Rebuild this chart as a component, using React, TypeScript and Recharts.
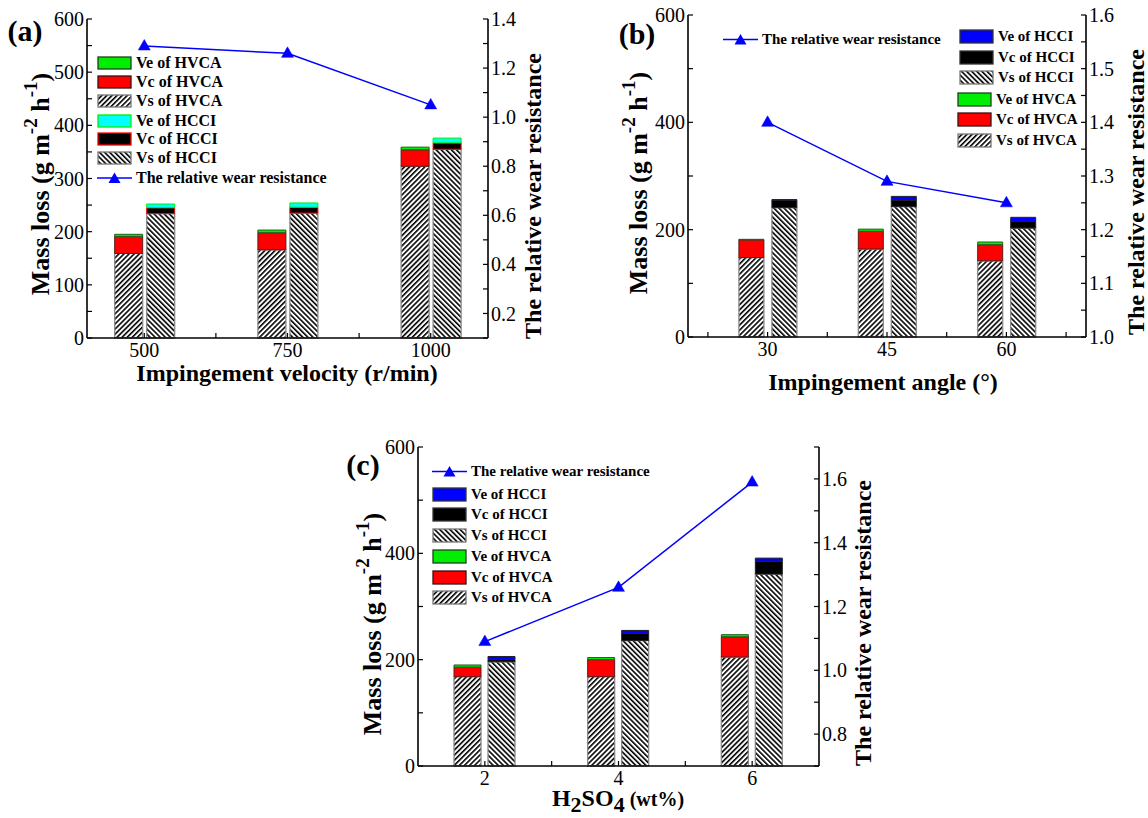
import React from 'react';
import { ComposedChart, Bar, Line, XAxis, YAxis, Legend } from 'recharts';

const FONT = '"Liberation Serif", "Times New Roman", serif';

// ---------- (a) impingement velocity ----------
const velocityCategories = [500, 750, 1000];
const velHvcaVs = [159, 166, 323];
const velHvcaVc = [32, 32, 31];
const velHvcaVe = [4, 5, 5];
const velHcciVs = [234, 235, 355];
const velHcciVc = [11, 11, 12];
const velHcciVe = [7, 8, 9];
const velRelativeWear = [1.29, 1.26, 1.05];
const velXTicks = [500, 625, 750, 875, 1000];
const velXLabels = [500, 750, 1000];
const velTopTicks = [470, 540, 610, 680, 750, 820, 890, 960, 1030];
const velLeftTicks = [0, 50, 100, 150, 200, 250, 300, 350, 400, 450, 500, 550, 600];
const velLeftLabels = [0, 100, 200, 300, 400, 500, 600];
const velRightTicks = [0.1, 0.2, 0.3, 0.4, 0.5, 0.6, 0.7, 0.8, 0.9, 1.0, 1.1, 1.2, 1.3, 1.4];
const velRightLabels = [0.2, 0.4, 0.6, 0.8, 1.0, 1.2, 1.4];

// ---------- (b) impingement angle ----------
const angleCategories = [30, 45, 60];
const angHvcaVs = [148, 164, 142];
const angHvcaVc = [33, 33, 30];
const angHvcaVe = [1, 4, 5];
const angHcciVs = [241, 243, 203];
const angHcciVc = [14, 12, 12];
const angHcciVe = [1, 7, 8];
const angRelativeWear = [1.4, 1.29, 1.25];
const angXTicks = [22.5, 30, 37.5, 45, 52.5, 60, 67.5];
const angXLabels = [30, 45, 60];
const angTopTicks = [25, 30, 35, 40, 45, 50, 55, 60, 65];
const angLeftTicks = [0, 100, 200, 300, 400, 500, 600];
const angLeftLabels = [0, 200, 400, 600];
const angRightTicks = [1.0, 1.05, 1.1, 1.15, 1.2, 1.25, 1.3, 1.35, 1.4, 1.45, 1.5, 1.55, 1.6];
const angRightLabels = [1.0, 1.1, 1.2, 1.3, 1.4, 1.5, 1.6];

// ---------- (c) H2SO4 concentration ----------
const acidCategories = [2, 4, 6];
const acidHvcaVs = [168, 168, 205];
const acidHvcaVc = [18, 32, 38];
const acidHvcaVe = [4, 4, 4];
const acidHcciVs = [196, 236, 361];
const acidHcciVc = [4, 13, 24];
const acidHcciVe = [6, 6, 6];
const acidRelativeWear = [1.09, 1.26, 1.59];
const acidXTicks = [2, 3, 4, 5, 6];
const acidXLabels = [2, 4, 6];
const acidTopTicks = [1.6, 2.2, 2.8, 3.4, 4.0, 4.6, 5.2, 5.8, 6.4];
const acidLeftTicks = [0, 100, 200, 300, 400, 500, 600];
const acidLeftLabels = [0, 200, 400, 600];
const acidRightTicks = [0.7, 0.8, 0.9, 1.0, 1.1, 1.2, 1.3, 1.4, 1.5, 1.6, 1.7];
const acidRightLabels = [0.8, 1.0, 1.2, 1.4, 1.6];

const has = (list: number[], v: number) => list.some((l) => Math.abs(l - v) < 1e-6);

const triPath = (cx: number, cy: number) =>
  `M${cx},${cy - 6.5} L${cx + 6},${cy + 4} L${cx - 6},${cy + 4} Z`;

function TriangleDot(props: any) {
  const { cx, cy, index } = props;
  if (cx == null || cy == null) return <g key={`d-${index}`} />;
  return <path key={`d-${index}`} d={triPath(cx, cy)} fill="#0000ff" stroke="#0000ff" strokeWidth={0.5} />;
}

function Title(props: any) {
  const { tx, ty, rotate, size = 24, children } = props;
  return (
    <text
      x={tx}
      y={ty}
      transform={rotate ? `rotate(-90 ${tx} ${ty})` : undefined}
      textAnchor="middle"
      dominantBaseline={rotate ? 'central' : 'alphabetic'}
      fontFamily={FONT}
      fontWeight="bold"
      fontSize={size}
      fill="#000"
    >
      {children}
    </text>
  );
}

const massLossText = (
  <>
    Mass loss (g m<tspan dy={-10} fontSize={19}>-2</tspan>
    <tspan dy={10}> h</tspan>
    <tspan dy={-10} fontSize={19}>-1</tspan>
    <tspan dy={10}>)</tspan>
  </>
);

type Swatch = {
  key: string;
  label: string;
  kind: 'line' | 'box';
  fill?: string;
  stroke?: string;
  x: number;
  y: number;
};

function LegendBlock({ items, font, w, h }: { items: Swatch[]; font: number; w: number; h: number }) {
  return (
    <div style={{ position: 'relative', width: '100%', height: '100%' }}>
      {items.map((it) => (
        <div
          key={it.key}
          style={{
            position: 'absolute',
            left: it.x,
            top: it.y - 10,
            height: 20,
            display: 'flex',
            alignItems: 'center',
            whiteSpace: 'nowrap',
          }}
        >
          <svg width={w} height={h + 2} style={{ display: 'block', marginRight: 4, overflow: 'visible' }}>
            {it.kind === 'line' ? (
              <>
                <line x1={0} y1={(h + 2) / 2} x2={w} y2={(h + 2) / 2} stroke="#0000ff" strokeWidth={1.5} />
                <path d={triPath(w / 2, (h + 2) / 2 + 1)} fill="#0000ff" />
              </>
            ) : (
              <rect x={1} y={1} width={w - 2} height={h} fill={it.fill} stroke={it.stroke} strokeWidth={1.3} />
            )}
          </svg>
          <span style={{ fontFamily: FONT, fontWeight: 'bold', fontSize: font, color: '#000', lineHeight: '20px' }}>
            {it.label}
          </span>
        </div>
      ))}
    </div>
  );
}

function Panel(p: any) {
  const data = p.cats.map((c: number, i: number) => ({
    x: c,
    hvcaVs: p.hvcaVs[i],
    hvcaVc: p.hvcaVc[i],
    hvcaVe: p.hvcaVe[i],
    hcciVs: p.hcciVs[i],
    hcciVc: p.hcciVc[i],
    hcciVe: p.hcciVe[i],
    rwr: p.rwr[i],
  }));
  const axisLine = { stroke: '#000', strokeWidth: 1.6 };
  const tickLine = { stroke: '#000', strokeWidth: 1.2 };
  const tickStyle = { fill: '#000', fontSize: 20, fontFamily: FONT };
  return (
    <div style={{ position: 'absolute', left: p.left, top: p.top }}>
      <ComposedChart
        width={p.width}
        height={p.height}
        data={data}
        margin={p.margin}
        barSize={p.barSize}
        barGap={p.barGap}
      >
        <XAxis
          xAxisId="bottom"
          dataKey="x"
          type="number"
          domain={p.xDomain}
          ticks={p.xTicks}
          interval={0}
          tickFormatter={(v: number) => (has(p.xLabels, v) ? String(v) : '')}
          height={40}
          axisLine={axisLine}
          tickLine={tickLine}
          tickSize={-5}
          tickMargin={10}
          tick={tickStyle}
          label={{ content: () => <Title tx={p.xTitle[0]} ty={p.xTitle[1]}>{p.xTitleText}</Title> }}
        />
        <XAxis
          xAxisId="top"
          orientation="top"
          dataKey="x"
          type="number"
          domain={p.xDomain}
          ticks={p.topTicks}
          interval={0}
          tickFormatter={() => ''}
          height={0}
          axisLine={axisLine}
          tickLine={tickLine}
          tickSize={-4}
        />
        <YAxis
          yAxisId="left"
          type="number"
          domain={[0, 600]}
          ticks={p.leftTicks}
          interval={0}
          tickFormatter={(v: number) => (has(p.leftLabels, v) ? String(v) : '')}
          width={60}
          axisLine={axisLine}
          tickLine={tickLine}
          tickSize={-5}
          tickMargin={8}
          tick={tickStyle}
          label={{
            content: () => (
              <g>
                <Title tx={p.yTitle[0]} ty={p.yTitle[1]} rotate size={26}>{massLossText}</Title>
                <Title tx={p.letter[0]} ty={p.letter[1]} size={30}>{p.letterText}</Title>
              </g>
            ),
          }}
        />
        <YAxis
          yAxisId="right"
          orientation="right"
          type="number"
          domain={p.rDomain}
          ticks={p.rightTicks}
          interval={0}
          tickFormatter={(v: number) => (has(p.rightLabels, v) ? v.toFixed(1) : '')}
          width={p.rightWidth}
          axisLine={axisLine}
          tickLine={tickLine}
          tickSize={-5}
          tickMargin={8}
          tick={tickStyle}
          label={{ content: () => <Title tx={p.rTitle[0]} ty={p.rTitle[1]} rotate>The relative wear resistance</Title> }}
        />
        <Bar xAxisId="bottom" yAxisId="left" dataKey="hvcaVs" stackId="hvca" fill="url(#hatchHVCA)" stroke="#8a8a8a" strokeWidth={1.3} isAnimationActive={false} />
        <Bar xAxisId="bottom" yAxisId="left" dataKey="hvcaVc" stackId="hvca" fill="#ff0000" stroke="#5a1a1a" strokeWidth={1} isAnimationActive={false} />
        <Bar xAxisId="bottom" yAxisId="left" dataKey="hvcaVe" stackId="hvca" fill="#00ee00" stroke="#1f5f1f" strokeWidth={1} isAnimationActive={false} />
        <Bar xAxisId="bottom" yAxisId="left" dataKey="hcciVs" stackId="hcci" fill="url(#hatchHCCI)" stroke="#8a8a8a" strokeWidth={1.3} isAnimationActive={false} />
        <Bar xAxisId="bottom" yAxisId="left" dataKey="hcciVc" stackId="hcci" fill="#000000" stroke={p.hcciVcStroke} strokeWidth={1} isAnimationActive={false} />
        <Bar xAxisId="bottom" yAxisId="left" dataKey="hcciVe" stackId="hcci" fill={p.hcciVeFill} stroke={p.hcciVeStroke} strokeWidth={1} isAnimationActive={false} />
        <Line
          xAxisId="bottom"
          yAxisId="right"
          dataKey="rwr"
          stroke="#0000ff"
          strokeWidth={1.5}
          dot={(d: any) => <TriangleDot {...d} key={`t-${d.index}`} />}
          activeDot={false}
          isAnimationActive={false}
        />
        <Legend
          layout="horizontal"
          verticalAlign="middle"
          align="center"
          wrapperStyle={{ left: 0, top: 0, width: p.width, height: p.height, pointerEvents: 'none' }}
          content={() => <LegendBlock items={p.legend} font={p.legendFont} w={p.swatchW} h={p.swatchH} />}
        />
      </ComposedChart>
    </div>
  );
}

const legendA: Swatch[] = [
  { key: 'a1', label: 'Ve of HVCA', kind: 'box', fill: '#00ee00', stroke: '#1f3f1f', x: 97, y: 63 },
  { key: 'a2', label: 'Vc of HVCA', kind: 'box', fill: '#ff0000', stroke: '#3a1010', x: 97, y: 82 },
  { key: 'a3', label: 'Vs of HVCA', kind: 'box', fill: 'url(#hatchHVCA)', stroke: '#777', x: 97, y: 101 },
  { key: 'a4', label: 'Ve of HCCI', kind: 'box', fill: '#00ffff', stroke: '#00ee00', x: 97, y: 121 },
  { key: 'a5', label: 'Vc of HCCI', kind: 'box', fill: '#000000', stroke: '#ff0000', x: 97, y: 139 },
  { key: 'a6', label: 'Vs of HCCI', kind: 'box', fill: 'url(#hatchHCCI)', stroke: '#777', x: 97, y: 158 },
  { key: 'a7', label: 'The relative wear resistance', kind: 'line', x: 97, y: 178 },
];

const legendB: Swatch[] = [
  { key: 'b0', label: 'The relative wear resistance', kind: 'line', x: 133, y: 39 },
  { key: 'b1', label: 'Ve of HCCI', kind: 'box', fill: '#0000ff', stroke: '#333', x: 369, y: 36 },
  { key: 'b2', label: 'Vc of HCCI', kind: 'box', fill: '#000000', stroke: '#333', x: 369, y: 57 },
  { key: 'b3', label: 'Vs of HCCI', kind: 'box', fill: 'url(#hatchHCCI)', stroke: '#777', x: 369, y: 77 },
  { key: 'b4', label: 'Ve of HVCA', kind: 'box', fill: '#00ee00', stroke: '#1f3f1f', x: 367, y: 99 },
  { key: 'b5', label: 'Vc of HVCA', kind: 'box', fill: '#ff0000', stroke: '#3a1010', x: 367, y: 119 },
  { key: 'b6', label: 'Vs of HVCA', kind: 'box', fill: 'url(#hatchHVCA)', stroke: '#777', x: 367, y: 140 },
];

const legendC: Swatch[] = [
  { key: 'c0', label: 'The relative wear resistance', kind: 'line', x: 102, y: 56 },
  { key: 'c1', label: 'Ve of HCCI', kind: 'box', fill: '#0000ff', stroke: '#333', x: 102, y: 79 },
  { key: 'c2', label: 'Vc of HCCI', kind: 'box', fill: '#000000', stroke: '#333', x: 102, y: 99 },
  { key: 'c3', label: 'Vs of HCCI', kind: 'box', fill: 'url(#hatchHCCI)', stroke: '#777', x: 102, y: 120 },
  { key: 'c4', label: 'Ve of HVCA', kind: 'box', fill: '#00ee00', stroke: '#1f3f1f', x: 102, y: 141 },
  { key: 'c5', label: 'Vc of HVCA', kind: 'box', fill: '#ff0000', stroke: '#3a1010', x: 102, y: 162 },
  { key: 'c6', label: 'Vs of HVCA', kind: 'box', fill: 'url(#hatchHVCA)', stroke: '#777', x: 102, y: 182 },
];

export default function App() {
  return (
    <div style={{ position: 'absolute', left: 0, top: 0, width: 1148, height: 818, background: '#fff', overflow: 'hidden' }}>
      <svg width={0} height={0} style={{ position: 'absolute' }}>
        <defs>
          <pattern id="hatchHVCA" patternUnits="userSpaceOnUse" width={3.6} height={3.6} patternTransform="rotate(45)">
            <rect width={3.6} height={3.6} fill="#fff" />
            <rect x={0} y={0} width={1.6} height={3.6} fill="#000" />
          </pattern>
          <pattern id="hatchHCCI" patternUnits="userSpaceOnUse" width={3.6} height={3.6} patternTransform="rotate(-45)">
            <rect width={3.6} height={3.6} fill="#fff" />
            <rect x={0} y={0} width={1.6} height={3.6} fill="#000" />
          </pattern>
        </defs>
      </svg>
      <Panel
        left={0}
        top={0}
        width={570}
        height={400}
        margin={{ top: 19, right: 22, bottom: 22, left: 27 }}
        rightWidth={60}
        barSize={28}
        barGap={4}
        cats={velocityCategories}
        hvcaVs={velHvcaVs}
        hvcaVc={velHvcaVc}
        hvcaVe={velHvcaVe}
        hcciVs={velHcciVs}
        hcciVc={velHcciVc}
        hcciVe={velHcciVe}
        rwr={velRelativeWear}
        xDomain={[400, 1100]}
        xTicks={velXTicks}
        xLabels={velXLabels}
        topTicks={velTopTicks}
        leftTicks={velLeftTicks}
        leftLabels={velLeftLabels}
        rDomain={[0.1, 1.4]}
        rightTicks={velRightTicks}
        rightLabels={velRightLabels}
        hcciVeFill="#00ffff"
        hcciVeStroke="#00ee00"
        hcciVcStroke="#ff0000"
        xTitle={[287, 381]}
        xTitleText="Impingement velocity (r/min)"
        yTitle={[40, 184]}
        rTitle={[533, 196]}
        letter={[25, 41]}
        letterText="(a)"
        legend={legendA}
        legendFont={16}
        swatchW={35}
        swatchH={12}
      />
      <Panel
        left={590}
        top={0}
        width={558}
        height={400}
        margin={{ top: 15, right: 12, bottom: 23, left: 38 }}
        rightWidth={50}
        barSize={25}
        barGap={8}
        cats={angleCategories}
        hvcaVs={angHvcaVs}
        hvcaVc={angHvcaVc}
        hvcaVe={angHvcaVe}
        hcciVs={angHcciVs}
        hcciVc={angHcciVc}
        hcciVe={angHcciVe}
        rwr={angRelativeWear}
        xDomain={[20, 70]}
        xTicks={angXTicks}
        xLabels={angXLabels}
        topTicks={angTopTicks}
        leftTicks={angLeftTicks}
        leftLabels={angLeftLabels}
        rDomain={[1.0, 1.6]}
        rightTicks={angRightTicks}
        rightLabels={angRightLabels}
        hcciVeFill="#0000ff"
        hcciVeStroke="#222"
        hcciVcStroke="#222"
        xTitle={[293, 390]}
        xTitleText="Impingement angle (°)"
        yTitle={[48, 183]}
        rTitle={[546, 192]}
        letter={[47, 44]}
        letterText="(b)"
        legend={legendB}
        legendFont={15}
        swatchW={35}
        swatchH={13}
      />
      <Panel
        left={330}
        top={415}
        width={570}
        height={403}
        margin={{ top: 32, right: 21, bottom: 12, left: 28 }}
        rightWidth={60}
        barSize={27}
        barGap={7}
        cats={acidCategories}
        hvcaVs={acidHvcaVs}
        hvcaVc={acidHvcaVc}
        hvcaVe={acidHvcaVe}
        hcciVs={acidHcciVs}
        hcciVc={acidHcciVc}
        hcciVe={acidHcciVe}
        rwr={acidRelativeWear}
        xDomain={[1, 7]}
        xTicks={acidXTicks}
        xLabels={acidXLabels}
        topTicks={acidTopTicks}
        leftTicks={acidLeftTicks}
        leftLabels={acidLeftLabels}
        rDomain={[0.7, 1.7]}
        rightTicks={acidRightTicks}
        rightLabels={acidRightLabels}
        hcciVeFill="#0000ff"
        hcciVeStroke="#222"
        hcciVcStroke="#222"
        xTitle={[288, 391]}
        xTitleText={
          <>
            H<tspan dy={6} fontSize={22}>2</tspan>
            <tspan dy={-6}>SO</tspan>
            <tspan dy={6} fontSize={22}>4</tspan>
            <tspan dy={-6} fontSize={20}> (wt%)</tspan>
          </>
        }
        yTitle={[42, 209]}
        rTitle={[533, 208]}
        letter={[33, 60]}
        letterText="(c)"
        legend={legendC}
        legendFont={15}
        swatchW={35}
        swatchH={13}
      />
    </div>
  );
}
